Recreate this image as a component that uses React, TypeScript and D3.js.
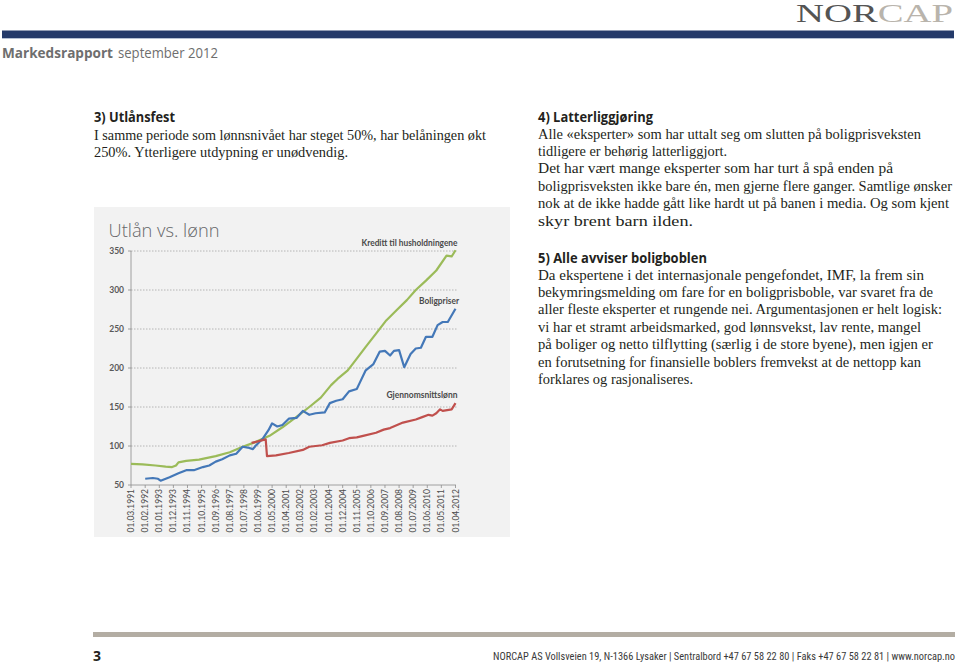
import React from "react";
import * as d3 from "d3";

// ---------- DATA ----------
const xTickLabels = [
  "01.03.1991", "01.02.1992", "01.01.1993", "01.12.1993", "01.11.1994", "01.10.1995",
  "01.09.1996", "01.08.1997", "01.07.1998", "01.06.1999", "01.05.2000", "01.04.2001",
  "01.03.2002", "01.02.2003", "01.01.2004", "01.12.2004", "01.11.2005", "01.10.2006",
  "01.09.2007", "01.08.2008", "01.07.2009", "01.06.2010", "01.05.2011", "01.04.2012",
];
const yTicks = [50, 100, 150, 200, 250, 300, 350];

const kredittDates = [
  "1991.03", "1991.12", "1992.10", "1993.06", "1993.11", "1994.02", "1994.04", "1994.10",
  "1995.08", "1996.09", "1997.08", "1998.06", "1999.04", "2000.03", "2001.01", "2002.02",
  "2002.10", "2003.07", "2004.03", "2004.08", "2005.04", "2005.11", "2006.06", "2007.02",
  "2007.10", "2008.06", "2009.02", "2009.09", "2010.05", "2011.01", "2011.09", "2012.01", "2012.04",
];
const kredittValues = [
  77, 76.5, 75, 73.5, 73, 75, 79, 81,
  82.5, 87, 92, 99, 105, 113, 124, 140,
  150, 162, 178, 186, 197, 212, 227, 244,
  261, 274, 287, 300, 312, 325, 344, 343, 351,
];

const boligDates = [
  "1992.02", "1992.08", "1992.12", "1993.02", "1993.09", "1994.04", "1994.10", "1995.04",
  "1995.11", "1996.04", "1996.09", "1997.02", "1997.08", "1998.01", "1998.06", "1998.10",
  "1999.02", "1999.04", "1999.10", "2000.02", "2000.05", "2000.09", "2001.01", "2001.06",
  "2001.12", "2002.05", "2002.10", "2003.03", "2003.10", "2004.02", "2004.07", "2004.12",
  "2005.05", "2005.11", "2006.01", "2006.06", "2006.12", "2007.05", "2007.09", "2008.01",
  "2008.04", "2008.08", "2008.12", "2009.05", "2009.09", "2010.01", "2010.05", "2010.10",
  "2011.02", "2011.06", "2011.10", "2012.04",
];
const boligValues = [
  58, 59, 58, 55.5, 60, 65, 69, 69,
  73, 75, 80, 83, 88, 90, 99, 98,
  96, 100, 110, 120, 129, 125, 127, 135,
  136, 145, 140, 142, 143, 155, 158, 160,
  170, 173, 180, 197, 205, 221, 222, 216,
  222, 223, 201, 218, 225, 226, 240, 240,
  255, 259, 259, 276,
];

const lonnDates = [
  "1999.01", "1999.12", "2000.01", "2000.08", "2001.06", "2002.05", "2002.10", "2003.08",
  "2004.02", "2004.12", "2005.05", "2005.11", "2006.04", "2007.02", "2007.08", "2008.01",
  "2008.11", "2009.09", "2010.02", "2010.07", "2010.10", "2011.01", "2011.04", "2011.06",
  "2012.01", "2012.04",
];
const lonnValues = [
  104, 108.5, 87, 88, 91, 95, 99, 101,
  104, 107, 110, 111, 113, 117, 121, 123,
  130, 134, 137, 140, 139, 142, 147, 145,
  147, 155,
];

const seriesNames = ["Kreditt til husholdningene", "Boligpriser", "Gjennomsnittslønn"];

const col1Heading = "3) Utlånsfest";
const col1Lines = [
  "I samme periode som lønnsnivået har steget 50%, har belåningen økt",
  "250%. Ytterligere utdypning er unødvendig.",
];
const col2Heading = "4) Latterliggjøring";
const col2Lines = [
  "Alle «eksperter» som har uttalt seg om slutten på boligprisveksten",
  "tidligere er behørig latterliggjort.",
  "Det har vært mange eksperter som har turt å spå enden på",
  "boligprisveksten ikke bare én, men gjerne flere ganger. Samtlige ønsker",
  "nok at de ikke hadde gått like hardt ut på banen i media. Og som kjent",
  "skyr brent barn ilden.",
];
const col3Heading = "5) Alle avviser boligboblen";
const col3Lines = [
  "Da ekspertene i det internasjonale pengefondet, IMF, la frem sin",
  "bekymringsmelding om fare for en boligprisboble, var svaret fra de",
  "aller fleste eksperter et rungende nei. Argumentasjonen er helt logisk:",
  "vi har et stramt arbeidsmarked, god lønnsvekst, lav rente, mangel",
  "på boliger og netto tilflytting (særlig i de store byene), men igjen er",
  "en forutsetning for finansielle boblers fremvekst at de nettopp kan",
  "forklares og rasjonaliseres.",
];
const col2Widths = [383, 189, 355, 414, 411, 155];
const col3Widths = [386, 395, 404, 383, 395, 383, 155];
const col1Widths = [392, 254];

const footerText =
  "NORCAP AS Vollsveien 19, N-1366 Lysaker | Sentralbord +47 67 58 22 80 | Faks +47 67 58 22 81 | www.norcap.no";

// ---------- CHART ----------
const parse = d3.timeParse("%Y.%m");
const parseLabel = d3.timeParse("%d.%m.%Y");

const serif = "'Liberation Serif', 'Times New Roman', serif";
const sans = "'Open Sans', 'Noto Sans', sans-serif";
const narrow = "'Liberation Sans Narrow', 'Roboto Condensed', Roboto, sans-serif";
const chartFont = "Lato, 'Open Sans', sans-serif";

export default function App() {
  const x = d3
    .scaleTime()
    .domain([parse("1991.03") as Date, parse("2012.04") as Date])
    .range([131, 455.5]);
  const y = d3.scaleLinear().domain([50, 350]).range([485, 251]);

  const line = d3
    .line<[Date, number]>()
    .x((d) => x(d[0]))
    .y((d) => y(d[1]));

  const mk = (dates: string[], vals: number[]) =>
    dates.map((d, i) => [parse(d) as Date, vals[i]] as [Date, number]);

  const series = [
    { name: seriesNames[0], pts: mk(kredittDates, kredittValues), color: "#9bbb59" },
    { name: seriesNames[1], pts: mk(boligDates, boligValues), color: "#4478b8" },
    { name: seriesNames[2], pts: mk(lonnDates, lonnValues), color: "#c0504d" },
  ];

  const labelPos = [
    { x: 457.5, y: 246, w: 96 },
    { x: 459, y: 304, w: 40 },
    { x: 457.5, y: 398, w: 71 },
  ];

  const lh = 17.4;
  const bodySize = 14;

  return (
    <svg
      width={960}
      height={665}
      style={{ position: "absolute", left: 0, top: 0, background: "#fff" }}
    >
      {/* Header */}
      <text
        x={796}
        y={22}
        fontFamily={serif}
        fontSize={25}
        textLength={157}
        lengthAdjust="spacingAndGlyphs"
      >
        <tspan fill="#545454">NOR</tspan>
        <tspan fill="#b9b4ac">CAP</tspan>
      </text>
      <rect x={2} y={30.5} width={952} height={7.5} fill="#243a6a" />
      <rect x={2} y={38} width={952} height={1} fill="#b4c0d4" />
      <text x={2} y={57.5} fontFamily={sans} fontWeight={700} fontSize={14.5} fill="#6e6e6e" textLength={111} lengthAdjust="spacingAndGlyphs">
        Markedsrapport
      </text>
      <text x={118} y={57.5} fontFamily={sans} fontSize={14.5} fill="#6e6e6e" textLength={100} lengthAdjust="spacingAndGlyphs">
        september 2012
      </text>

      {/* Column 1 text */}
      <text x={94} y={121.5} fontFamily={sans} fontWeight={700} fontSize={13.5} fill="#231f20" textLength={81} lengthAdjust="spacingAndGlyphs">
        {col1Heading}
      </text>
      {col1Lines.map((t, i) => (
        <text key={i} x={94} y={139.5 + i * lh} fontFamily={serif} fontSize={bodySize} fill="#231f20" textLength={col1Widths[i]} lengthAdjust="spacingAndGlyphs">
          {t}
        </text>
      ))}

      {/* Column 2 text */}
      <text x={538} y={121.5} fontFamily={sans} fontWeight={700} fontSize={13.5} fill="#231f20" textLength={115} lengthAdjust="spacingAndGlyphs">
        {col2Heading}
      </text>
      {col2Lines.map((t, i) => (
        <text key={i} x={538} y={138.5 + i * lh} fontFamily={serif} fontSize={bodySize} fill="#231f20" textLength={col2Widths[i]} lengthAdjust="spacingAndGlyphs">
          {t}
        </text>
      ))}
      <text x={538} y={262.5} fontFamily={sans} fontWeight={700} fontSize={13.5} fill="#231f20" textLength={169} lengthAdjust="spacingAndGlyphs">
        {col3Heading}
      </text>
      {col3Lines.map((t, i) => (
        <text key={i} x={538} y={279.5 + i * lh} fontFamily={serif} fontSize={bodySize} fill="#231f20" textLength={col3Widths[i]} lengthAdjust="spacingAndGlyphs">
          {t}
        </text>
      ))}

      {/* Chart panel */}
      <rect x={94} y={207} width={416} height={330} fill="#f2f2f2" />
      <text x={108.5} y={236.5} fontFamily={sans} fontWeight={300} fontSize={19} fill="#666769" textLength={111} lengthAdjust="spacingAndGlyphs">
        Utlån vs. lønn
      </text>

      {/* Gridlines */}
      {yTicks
        .filter((t) => t > 50)
        .map((t) => (
          <line key={t} x1={131} x2={457} y1={y(t)} y2={y(t)} stroke="#a6a6a6" strokeWidth={0.8} strokeDasharray="1.5,1.5" />
        ))}
      {/* Axes */}
      <line x1={131} x2={131} y1={251} y2={485} stroke="#8c8c8c" strokeWidth={0.8} />
      <line x1={131} x2={456} y1={485} y2={485} stroke="#8c8c8c" strokeWidth={0.8} />
      {yTicks.map((t) => (
        <g key={t}>
          <line x1={128} x2={131} y1={y(t)} y2={y(t)} stroke="#8c8c8c" strokeWidth={0.8} />
          <text x={124} y={y(t)} dy="0.35em" textAnchor="end" fontFamily={chartFont} fontWeight={700} fontSize={8.5} fill="#595959">
            {t}
          </text>
        </g>
      ))}
      {xTickLabels.map((lab) => {
        const xp = x(parseLabel(lab) as Date);
        return (
          <g key={lab}>
            <line x1={xp} x2={xp} y1={485} y2={488} stroke="#8c8c8c" strokeWidth={0.8} />
            <text
              transform={`translate(${xp + 3},${489}) rotate(-90)`}
              textAnchor="end"
              fontFamily={chartFont}
              fontSize={8.5}
              fill="#4d4d4d"
            >
              {lab}
            </text>
          </g>
        );
      })}

      {/* Lines */}
      {series.map((s) => (
        <path key={s.name} d={line(s.pts) || ""} fill="none" stroke={s.color} strokeWidth={2.2} strokeLinejoin="round" />
      ))}
      {series.map((s, i) => (
        <text key={s.name} x={labelPos[i].x} y={labelPos[i].y} textAnchor="end" fontFamily={chartFont} fontWeight={700} fontSize={8.5} fill="#4a4a4a" textLength={labelPos[i].w} lengthAdjust="spacingAndGlyphs">
          {s.name}
        </text>
      ))}

      {/* Footer */}
      <rect x={93} y={632} width={862} height={5} fill="#b3ada3" />
      <text x={93} y={660.5} fontFamily={sans} fontWeight={700} fontSize={14} fill="#231f20">
        3
      </text>
      <text x={955} y={660} textAnchor="end" fontFamily={narrow} fontSize={10.5} fill="#3a3a3a" textLength={462} lengthAdjust="spacingAndGlyphs">
        {footerText}
      </text>
    </svg>
  );
}
